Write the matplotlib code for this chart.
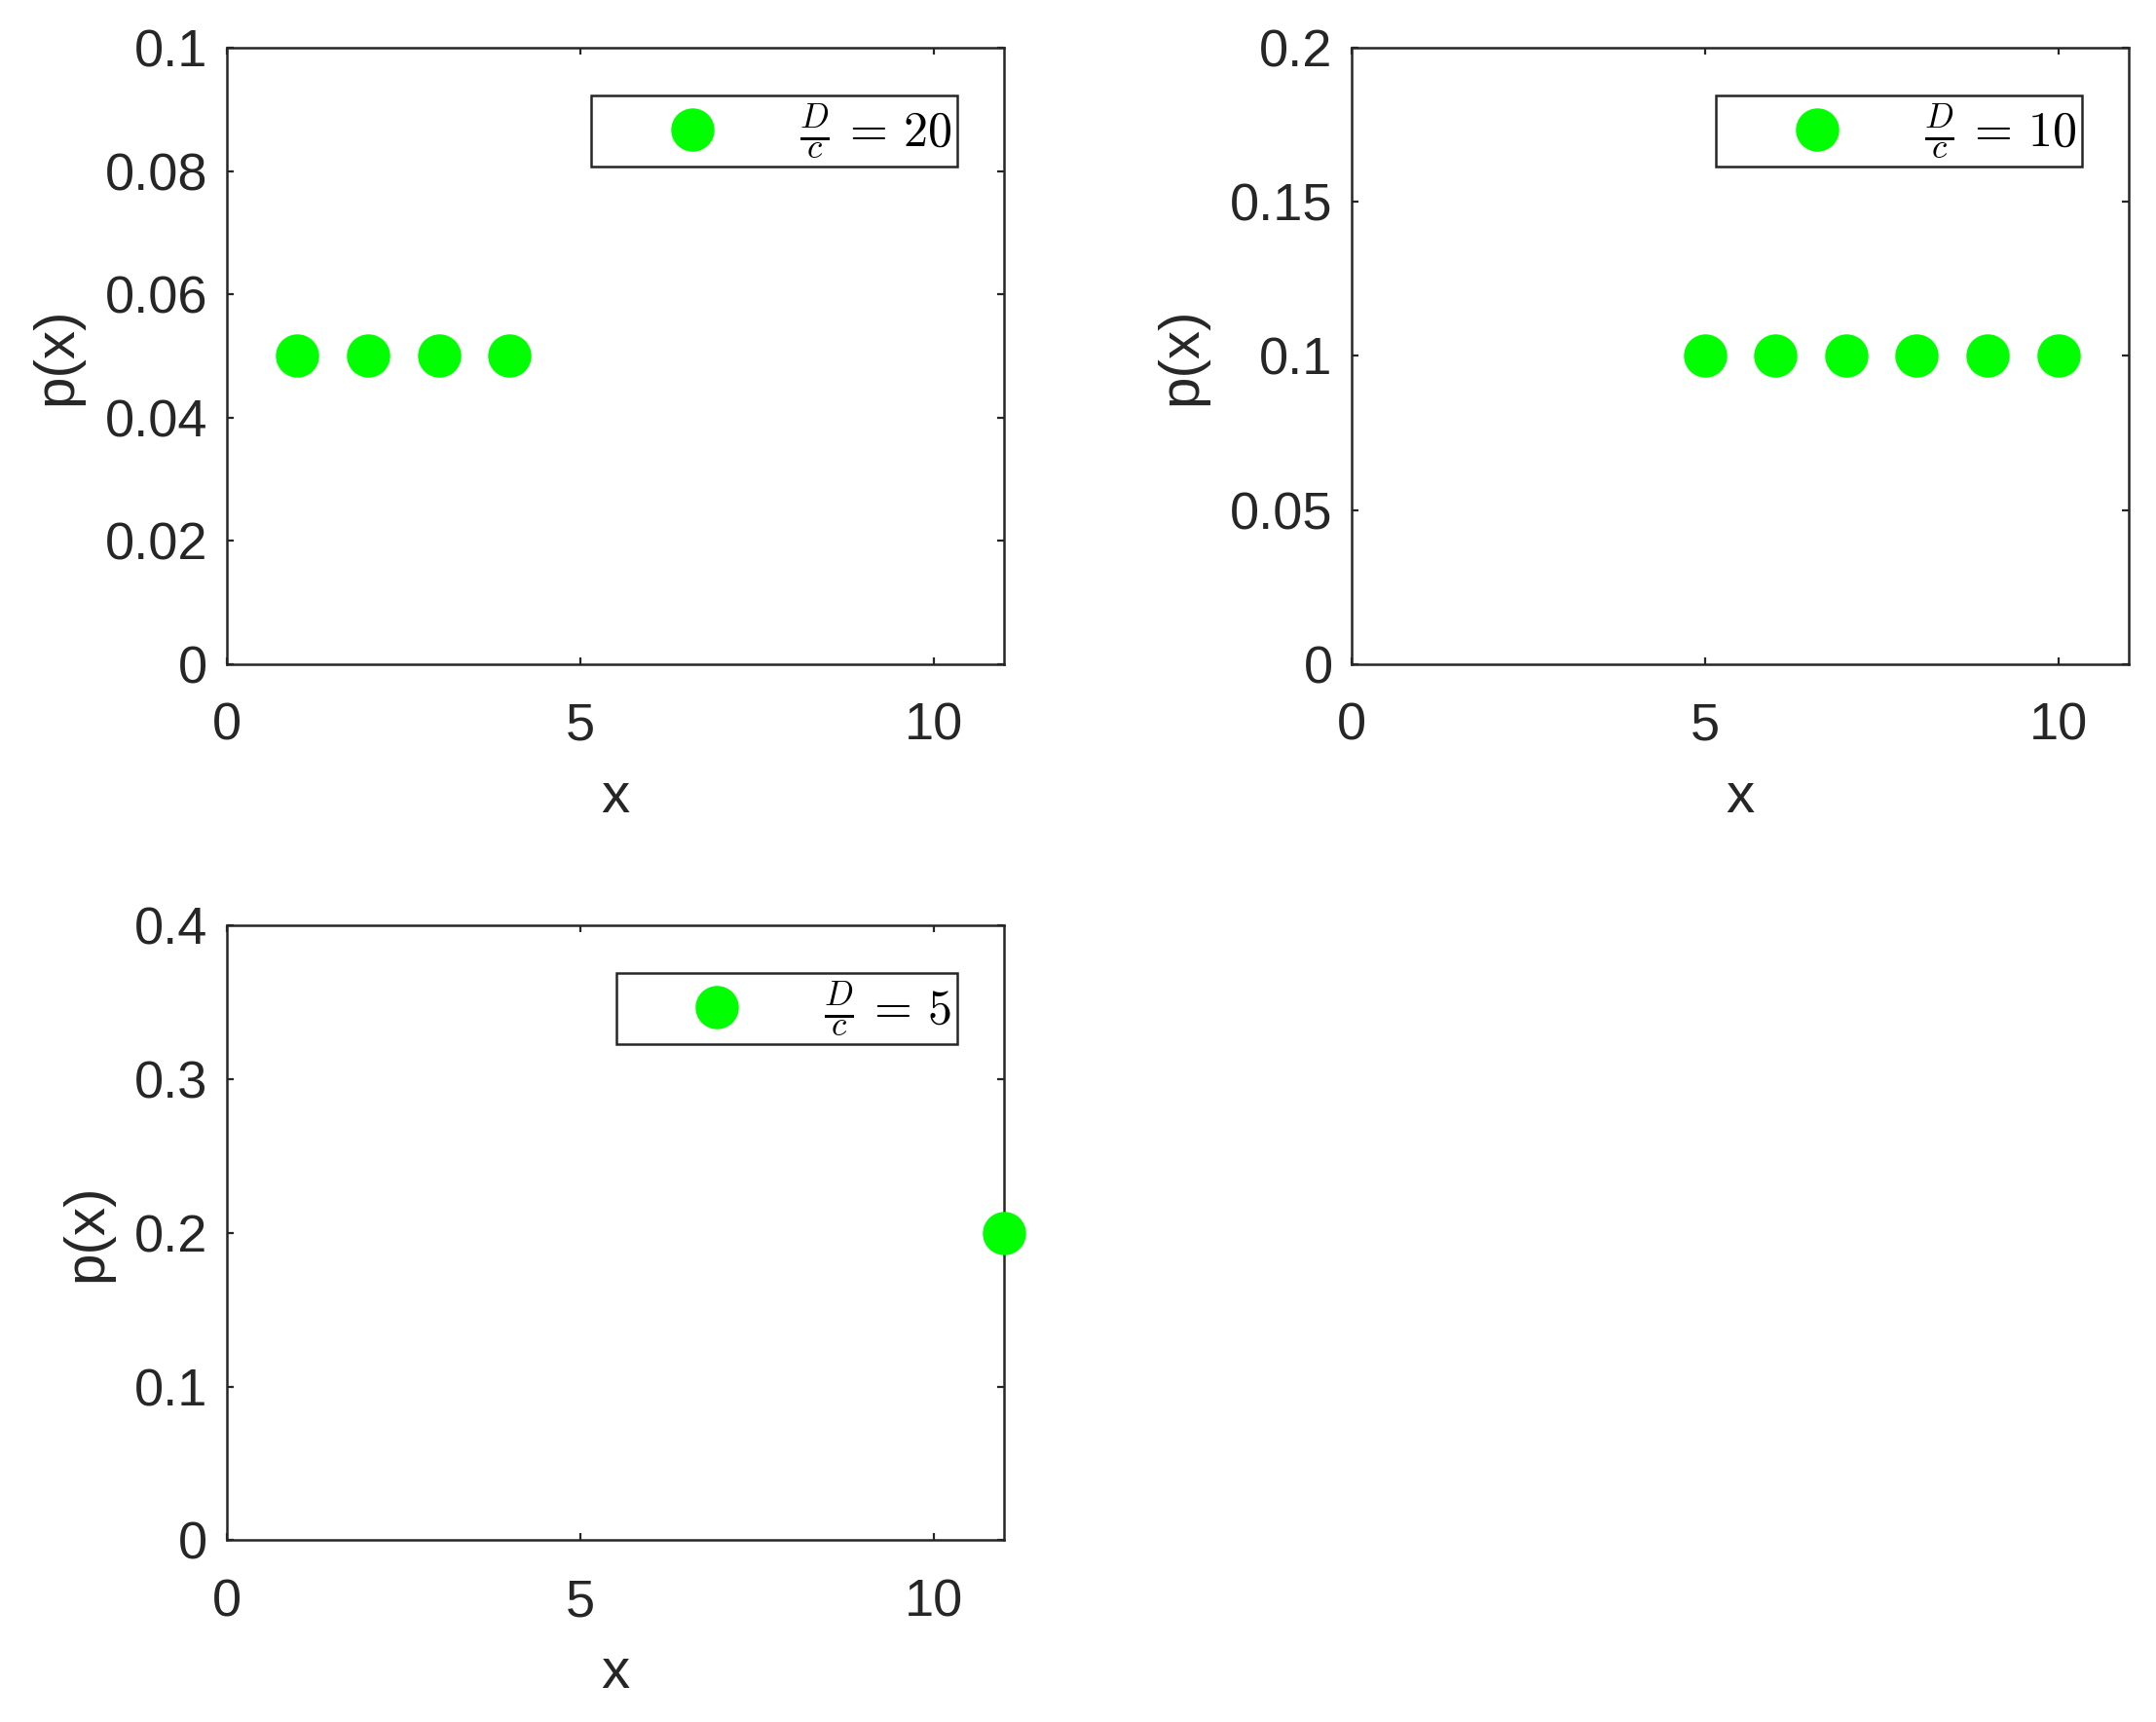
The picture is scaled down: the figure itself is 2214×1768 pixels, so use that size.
import matplotlib
matplotlib.use("Agg")
import matplotlib.pyplot as plt

# values
x_d20 = [1, 2, 3, 4]
p_d20 = [0.05, 0.05, 0.05, 0.05]
x_d10 = [5, 6, 7, 8, 9, 10]
p_d10 = [0.1, 0.1, 0.1, 0.1, 0.1, 0.1]
x_d5 = [11]
p_d5 = [0.2]

labels = [r'$\frac{D}{c}\,=\,20\;$', r'$\frac{D}{c}\,=\,10\;$', r'$\frac{D}{c}\,=\,5\;$']
yticks = [[0, 0.02, 0.04, 0.06, 0.08, 0.1],
          [0, 0.05, 0.1, 0.15, 0.2],
          [0, 0.1, 0.2, 0.3, 0.4]]
ylims = [0.1, 0.2, 0.4]
xticks = [0, 5, 10]

plt.rcParams['font.family'] = ['Liberation Sans', 'DejaVu Sans']
plt.rcParams['mathtext.fontset'] = 'cm'
dark = '#262626'

fig = plt.figure(figsize=(11.07, 8.84), dpi=200)
positions = [[0.1052, 0.6143, 0.3605, 0.358],
             [0.6269, 0.6143, 0.3605, 0.358],
             [0.1052, 0.1055, 0.3605, 0.3572]]
data = [(x_d20, p_d20), (x_d10, p_d10), (x_d5, p_d5)]

for i in range(3):
    ax = fig.add_axes(positions[i])
    xs, ps = data[i]
    ax.plot(xs, ps, 'o', color='#00ff00', markersize=15, linestyle='none',
            label=labels[i], clip_on=False, zorder=5)
    ax.set_xlim(0, 11)
    ax.set_ylim(0, ylims[i])
    ax.set_xticks(xticks)
    ax.set_xticklabels([str(t) for t in xticks])
    ax.set_yticks(yticks[i])
    ax.set_yticklabels(['%g' % t for t in yticks[i]])
    ax.tick_params(direction='in', length=2.5, width=0.8, colors=dark,
                   labelsize=19.5, top=True, right=True)
    ax.tick_params(axis='x', pad=14)
    ax.tick_params(axis='y', pad=7)
    for s in ax.spines.values():
        s.set_color(dark)
        s.set_linewidth(0.9)
    ax.set_xlabel('x', fontsize=21, color=dark, labelpad=7.5)
    ax.set_ylabel('p(x)', fontsize=21, color=dark, labelpad=8)
    leg = ax.legend(loc='upper right', bbox_to_anchor=(0.94, 0.922),
                    fontsize=18, frameon=True, fancybox=False,
                    handlelength=3.9, handletextpad=0.25, borderpad=0.12,
                    borderaxespad=0)
    leg.get_frame().set_edgecolor(dark)
    leg.get_frame().set_linewidth(0.9)
    leg.get_frame().set_alpha(1)

fig.savefig('out.png', dpi=200, facecolor='white')
